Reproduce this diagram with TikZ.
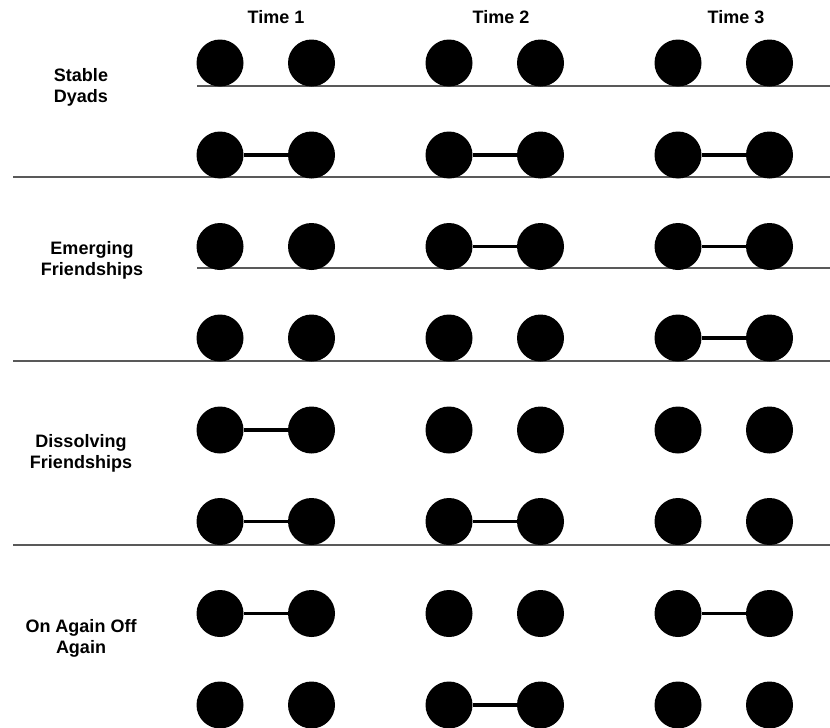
\documentclass[tikz,border=0pt]{standalone}
\usepackage{fontspec}
\setmainfont{Liberation Sans}

\begin{document}
\begin{tikzpicture}[x=1pt,y=-1pt,
  dot/.style={circle,fill=black,inner sep=0pt,minimum size=47pt},
  tie/.style={line width=3.3pt},
  rule/.style={black!65,line width=1.3pt},
  lbl/.style={font=\fontsize{18}{21}\selectfont\bfseries,align=center}]
  \useasboundingbox (0,0) rectangle (830,728);
  % separators
  \draw[rule] (197,86)--(830,86);
  \draw[rule] (13,177)--(830,177);
  \draw[rule] (197,268)--(830,268);
  \draw[rule] (13,361)--(830,361);
  \draw[rule] (13,545)--(830,545);
  % headers
  \node[lbl] (time1) at (276,17) {Time 1};
  \node[lbl] (time2) at (501,17) {Time 2};
  \node[lbl] (time3) at (736,17) {Time 3};
  % group labels
  \node[lbl] (stable) at (81,87) {Stable\\Dyads};
  \node[lbl] (emerging) at (92,260) {Emerging\\Friendships};
  \node[lbl] (dissolving) at (81,453) {Dissolving\\Friendships};
  \node[lbl] (onoff) at (81,638) {On Again Off\\Again};
  % dyads
  \foreach \r/\y in {1/63,2/155,3/246.5,4/338,5/430,6/521.5,7/613.5,8/705}
    \foreach \c/\x in {1/220,2/449,3/678} {
      \node[dot] (a\r\c) at (\x,\y) {};
      \node[dot] (b\r\c) at (\x+91.5,\y) {};
    }
  % ties
  \foreach \r/\c in {2/1,2/2,2/3,3/2,3/3,4/3,5/1,6/1,6/2,7/1,7/3,8/2}
    \draw[tie] (a\r\c)--(b\r\c);
\end{tikzpicture}
\end{document}
